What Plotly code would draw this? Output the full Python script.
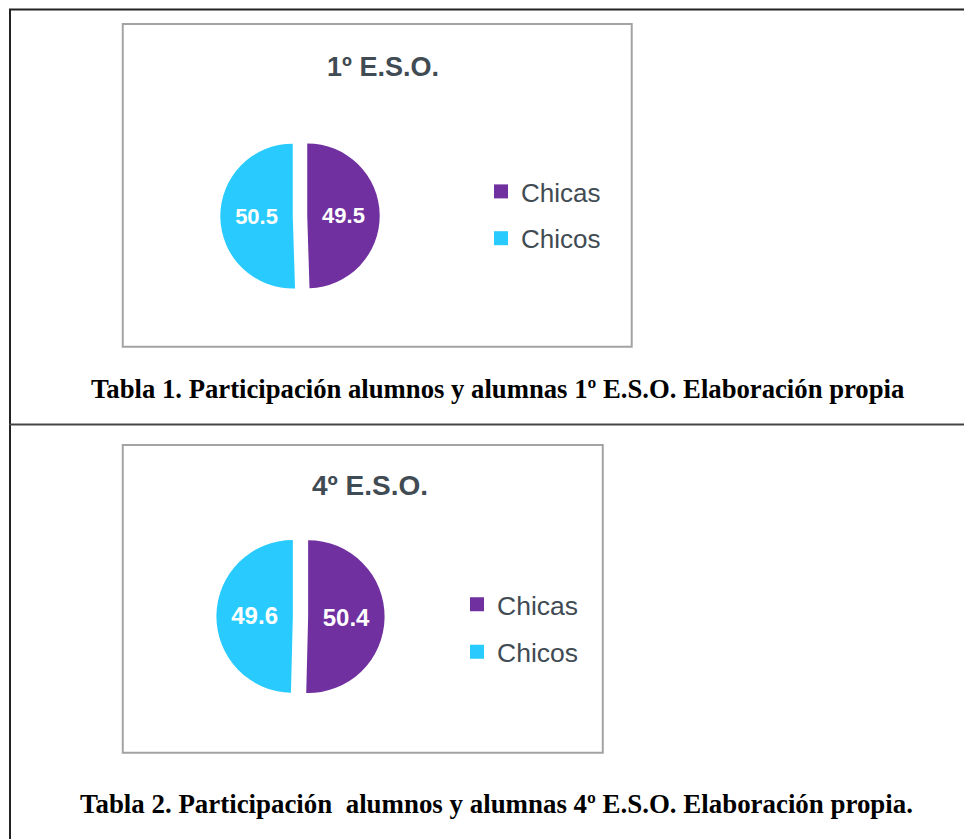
import plotly.graph_objects as go

# datos de participación
etiquetas = ["Chicas", "Chicos"]
valores_1eso = [49.5, 50.5]
valores_4eso = [50.4, 49.6]
colores = ["#7030A0", "#29CBFE"]

titulo_1 = "1º E.S.O."
titulo_2 = "4º E.S.O."
pie_1 = "Tabla 1. Participación alumnos y alumnas 1º E.S.O. Elaboración propia"
pie_2 = "Tabla 2. Participación&nbsp; alumnos y alumnas 4º E.S.O. Elaboración propia."

# la página deja 8px de margen, así que todo se mide en coordenadas de pantalla
OFF = 8
W, H = 972 - OFF, 840 - OFF
gris_txt = "#414B53"


def px_x(x):
    return (x - OFF) / W


def px_y(y):
    return 1 - (y - OFF) / H


fig = go.Figure()

fig.add_trace(go.Pie(
    labels=etiquetas, values=valores_1eso,
    marker=dict(colors=colores, line=dict(width=0)),
    sort=False, direction="clockwise", rotation=0,
    pull=[0.1, 0.1],
    textinfo="value", textposition="inside",
    insidetextfont=dict(family="Liberation Sans", size=22, color="white", weight="bold"),
    hoverinfo="skip", showlegend=False,
    domain=dict(x=[px_x(220.3), px_x(379.7)], y=[px_y(295.8), px_y(136.2)]),
))

fig.add_trace(go.Pie(
    labels=etiquetas, values=valores_4eso,
    marker=dict(colors=colores, line=dict(width=0)),
    sort=False, direction="clockwise", rotation=0,
    pull=[0.1, 0.1],
    textinfo="value", textposition="inside",
    insidetextfont=dict(family="Liberation Sans", size=24, color="white", weight="bold"),
    hoverinfo="skip", showlegend=False,
    domain=dict(x=[px_x(216.4), px_x(384.6)], y=[px_y(700.6), px_y(532.4)]),
))

# leyendas (una por gráfico)
for leg in ["legend", "legend2"]:
    for nombre, color in zip(etiquetas, colores):
        fig.add_trace(go.Scatter(
            x=[None], y=[None], mode="markers", name=nombre,
            marker=dict(symbol="square", size=14, color=color),
            legend=leg, legendgroup=leg + nombre, hoverinfo="skip",
        ))

# marcos y líneas de la tabla
shapes = [
    dict(type="line", x0=px_x(8), x1=1, y0=px_y(12.5), y1=px_y(12.5),
         line=dict(color="#222", width=2)),
    dict(type="line", x0=px_x(9), x1=px_x(9), y0=px_y(12), y1=0,
         line=dict(color="#222", width=2)),
    dict(type="line", x0=px_x(8), x1=1, y0=px_y(426.5), y1=px_y(426.5),
         line=dict(color="#444", width=2)),
    dict(type="rect", x0=px_x(122), x1=px_x(632), y0=px_y(27), y1=px_y(349),
         line=dict(color="#A3A3A3", width=2)),
    dict(type="rect", x0=px_x(122), x1=px_x(603), y0=px_y(447), y1=px_y(754),
         line=dict(color="#A3A3A3", width=2)),
]

annots = [
    dict(text="<b>" + titulo_1 + "</b>", x=px_x(383), y=px_y(67),
         font=dict(family="Liberation Sans", size=27, color=gris_txt)),
    dict(text="<b>" + titulo_2 + "</b>", x=px_x(370), y=px_y(485),
         font=dict(family="Liberation Sans", size=28, color=gris_txt)),
    dict(text="<b>" + pie_1 + "</b>", x=px_x(497), y=px_y(389),
         font=dict(family="Liberation Serif", size=26.7, color="black")),
    dict(text="<b>" + pie_2 + "</b>", x=px_x(496), y=px_y(804),
         font=dict(family="Liberation Serif", size=26.9, color="black")),
]
for a in annots:
    a.update(xref="paper", yref="paper", showarrow=False, xanchor="center", yanchor="middle")

fig.update_layout(
    width=W, height=H,
    margin=dict(l=0, r=0, t=0, b=0),
    paper_bgcolor="white", plot_bgcolor="white",
    xaxis=dict(visible=False), yaxis=dict(visible=False),
    shapes=shapes, annotations=annots,
    legend=dict(x=px_x(481), y=px_y(215), xanchor="left", yanchor="middle",
                tracegroupgap=10,
                font=dict(family="Liberation Sans", size=26, color=gris_txt),
                bgcolor="rgba(0,0,0,0)"),
    legend2=dict(x=px_x(457), y=px_y(628), xanchor="left", yanchor="middle",
                 tracegroupgap=10,
                 font=dict(family="Liberation Sans", size=26.5, color=gris_txt),
                 bgcolor="rgba(0,0,0,0)"),
)

fig.write_html("out.html")
